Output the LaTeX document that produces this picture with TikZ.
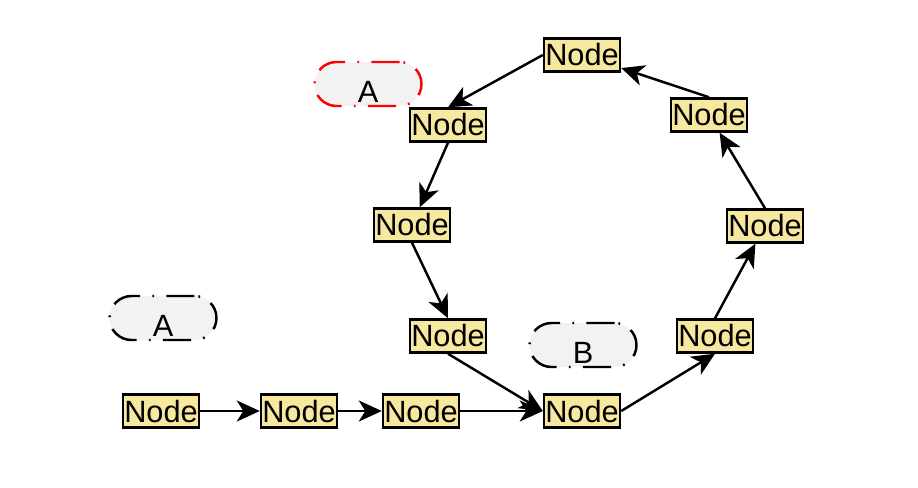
\documentclass[tikz,border=0pt]{standalone}
\usepackage{fontspec}
\setmainfont{Liberation Sans}
\usetikzlibrary{arrows.meta}
\definecolor{cnode}{RGB}{247,232,160}
\definecolor{ctag}{RGB}{242,242,242}
\definecolor{cred}{RGB}{255,0,0}

\begin{document}
\begin{tikzpicture}[
  x=0.02cm,y=-0.02cm,
  font=\fontsize{17.5}{20}\selectfont,
  >={Stealth[length=0.46cm,width=0.42cm,inset=0.13cm]},
  item/.style={draw,line width=1.4pt,fill=cnode,minimum width=1.52cm,minimum height=0.66cm,inner sep=0pt},
  tag/.style={draw,line width=1.4pt,fill=ctag,rounded corners=0.44cm,minimum width=2.14cm,minimum height=0.88cm,
    inner sep=0pt,text height=21pt,text depth=0pt,dash pattern=on 16pt off 7pt on 1pt off 7pt},
  arrow/.style={->,line width=1.4pt}
]
  \useasboundingbox (0,0) rectangle (918,487);

  % bottom row
  \node[item] (n1) at (161,411) {Node};
  \node[item] (n2) at (299,411) {Node};
  \node[item] (n3) at (421,411) {Node};
  \node[item] (n4) at (582,411) {Node};
  % ring
  \node[item] (n5) at (715,336) {Node};
  \node[item] (n6) at (765,226) {Node};
  \node[item] (n7) at (709,115) {Node};
  \node[item] (n8) at (582,55) {Node};
  \node[item] (n9) at (448,125) {Node};
  \node[item] (n10) at (412,225) {Node};
  \node[item] (n11) at (448,336) {Node};

  % labels
  \node[tag,draw=cred] (tagA1) at (368,84) {A};
  \node[tag] (tagA2) at (163,318) {A};
  \node[tag] (tagB) at (583,345) {B};

  \draw[arrow] (n1.east) -- (n2.west);
  \draw[arrow] (n2.east) -- (n3.west);
  \draw[arrow] (n3.east) -- (n4.west);
  \draw[arrow] (n11.south) -- (n4.west);
  \draw[arrow] (n4.east) -- (n5.south);
  \draw[arrow] (n5.north) -- (n6);
  \draw[arrow] (n6.north) -- (n7);
  \draw[arrow] (n7.north) -- (n8);
  \draw[arrow] (n8.west) -- (n9.north);
  \draw[arrow] (n9.south) -- (n10);
  \draw[arrow] (n10.south) -- (n11.north);
\end{tikzpicture}
\end{document}
